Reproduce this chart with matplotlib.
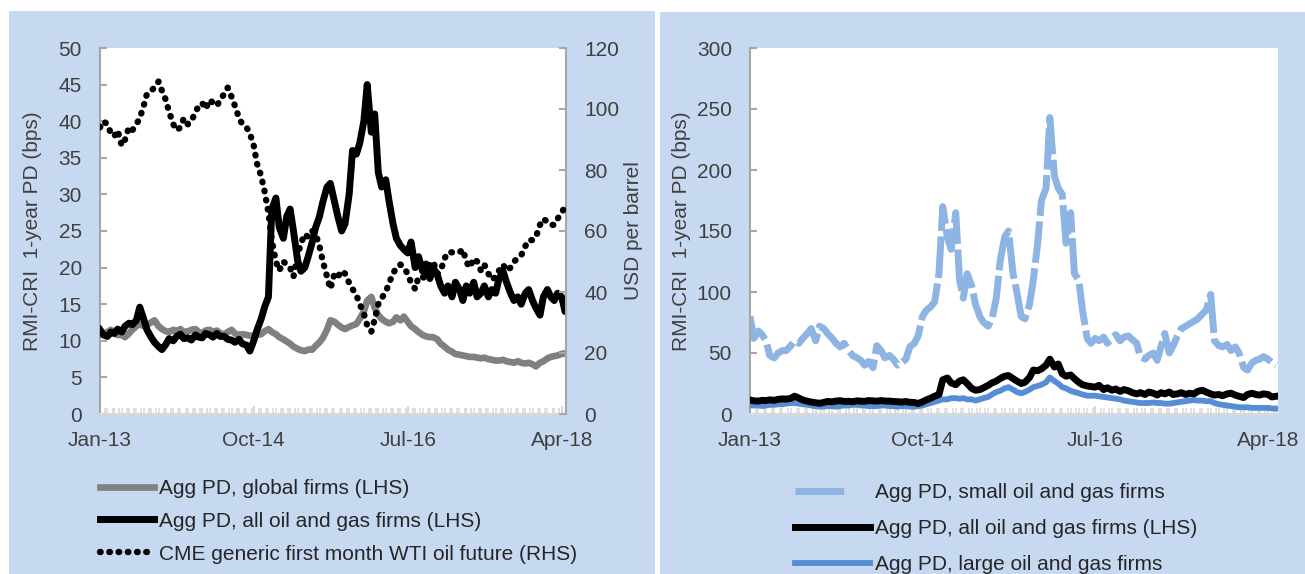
import matplotlib
matplotlib.use("Agg")
import matplotlib.pyplot as plt
import matplotlib.dates as mdates
from matplotlib.patches import Rectangle
from matplotlib.lines import Line2D
import pandas as pd

plt.rcParams['font.family'] = ['Liberation Sans', 'DejaVu Sans']

# ---------------- data (semi-monthly, Jan 2013 - May 2018) ----------------
dates = pd.date_range('2013-01-01', '2018-05-01', freq='SMS')

# CME generic first month WTI oil future (USD per barrel, RHS)
oil = [94, 96, 95, 92, 91, 93, 88, 90, 94, 93, 95, 97,
       101, 105, 106, 107, 109, 106, 103, 99, 95, 93, 94, 97,
       95, 96, 99, 101, 102, 100, 103, 102, 101, 103, 105, 107,
       104, 101, 97, 95, 94, 92, 88, 82, 78, 73, 66, 57,
       50, 47, 50, 49, 48, 45, 52, 56, 59, 58, 60, 59,
       55, 50, 45, 41, 46, 45, 47, 46, 43, 41, 39, 36,
       33, 29, 27, 31, 36, 38, 40, 43, 46, 48, 49, 48,
       46, 43, 41, 45, 45, 44, 49, 50, 46, 47, 51, 53,
       53, 53, 53, 54, 50, 48, 51, 50, 47, 49, 46, 44,
       45, 47, 49, 47, 48, 50, 51, 52, 55, 57, 57, 58,
       62, 64, 63, 62, 62, 64, 66, 68, 68]

# Agg PD, global firms (bps, LHS)
glob = [11.5, 11.0, 11.2, 11.5, 11.0, 10.8, 10.8, 10.5, 11.0, 11.5, 12.0, 12.3,
        12.0, 12.2, 12.5, 12.8, 12.0, 11.6, 11.3, 11.2, 11.5, 11.3, 11.6, 11.2,
        11.3, 11.5, 11.6, 11.2, 11.0, 11.4, 11.5, 11.2, 11.4, 11.0, 10.9, 11.2,
        11.5, 11.0, 10.8, 10.9, 10.8, 10.7, 10.7, 10.8, 10.9, 11.3, 11.6, 11.2,
        10.9, 10.5, 10.2, 9.9, 9.6, 9.2, 8.9, 8.7, 8.6, 8.8, 8.8, 9.3,
        9.8, 10.4, 11.5, 12.8, 12.6, 12.2, 11.8, 11.6, 11.9, 12.1, 12.3, 13.0,
        14.0, 15.5, 16.0, 14.5, 13.5, 13.0, 12.6, 12.4, 12.6, 13.2, 12.8, 13.3,
        12.6, 12.0, 11.6, 11.2, 10.8, 10.6, 10.5, 10.5, 10.2, 9.6, 9.2, 8.8,
        8.5, 8.2, 8.1, 8.0, 7.9, 7.8, 7.8, 7.7, 7.6, 7.7, 7.5, 7.4,
        7.3, 7.3, 7.4, 7.2, 7.1, 7.0, 7.2, 7.0, 6.9, 7.0, 6.8, 6.5,
        7.0, 7.2, 7.6, 7.8, 7.9, 8.0, 8.2, 8.3, 8.3]

# Agg PD, all oil and gas firms (bps)
all_og = [11.5, 10.8, 10.6, 11.2, 11.0, 11.6, 11.2, 12.0, 12.4, 12.2, 12.8, 14.6,
          13.0, 11.5, 10.5, 9.8, 9.2, 8.8, 9.5, 10.3, 10.0, 10.6, 10.9, 10.3,
          10.4, 10.1, 10.8, 10.5, 10.4, 11.0, 10.8, 10.5, 11.0, 10.6, 10.6, 10.2,
          10.1, 9.8, 10.2, 9.6, 9.4, 8.6, 10.0, 11.5, 13.0, 14.6, 16.0, 28.0,
          29.5, 25.5, 24.0, 27.0, 28.0, 25.0, 21.0, 19.5, 20.0, 21.5, 23.5, 25.5,
          27.0, 29.0, 31.0, 31.5, 29.0, 27.0, 25.0, 26.0, 30.0, 36.0, 35.5, 37.0,
          40.0, 45.0, 38.5, 41.0, 33.0, 31.0, 32.0, 29.0, 26.0, 24.0, 23.0, 22.5,
          22.0, 23.5, 20.0, 21.5, 19.5, 20.5, 18.5, 20.0, 19.0, 17.5, 16.5, 17.5,
          16.0, 18.0, 17.0, 15.5, 17.5, 16.5, 18.0, 16.0, 16.5, 17.5, 16.0, 17.0,
          16.5, 18.5, 19.5, 18.0, 16.5, 15.5, 16.0, 15.0, 16.5, 17.0, 15.5, 14.5,
          13.5, 16.0, 17.0, 16.0, 15.5, 16.5, 16.0, 14.0, 14.5]

# Agg PD, small oil and gas firms (bps)
small = [80, 62, 68, 65, 60, 48, 46, 50, 52, 52, 56, 60,
         58, 62, 66, 70, 60, 72, 70, 66, 62, 58, 55, 58,
         52, 48, 46, 44, 40, 43, 38, 56, 52, 46, 48, 45,
         40, 42, 45, 55, 58, 64, 80, 85, 88, 92, 115, 170,
         145, 135, 165, 110, 95, 115, 105, 90, 80, 75, 72, 78,
         95, 125, 145, 150, 115, 100, 80, 78, 90, 110, 140, 175,
         185, 243, 195, 185, 180, 140, 165, 115, 110, 85, 62, 58,
         62, 60, 63, 58, 62, 65, 60, 63, 64, 61, 58, 47,
         45, 48, 50, 44, 55, 66, 50, 56, 64, 70, 72, 74,
         76, 78, 82, 85, 98, 60, 56, 55, 57, 52, 55, 50,
         38, 36, 42, 44, 45, 47, 45, 42, 40]

# Agg PD, large oil and gas firms (bps)
large = [7, 7, 7, 6.5, 7, 7.5, 7.5, 8, 8, 8.5, 9, 9,
         8.5, 8, 7.5, 7, 6.5, 6, 6, 6.5, 6.5, 6, 6.5, 7,
         7, 7.5, 7.5, 7, 7, 6.5, 6.5, 6.5, 7, 7, 6.5, 6.5,
         6, 6.5, 6.5, 6, 6, 6.5, 7, 8, 9, 10, 11, 12,
         12, 13, 13, 12.5, 13, 12, 12, 11, 12, 13, 14, 16,
         18, 19, 21, 22, 20, 18, 17, 18, 20, 22, 23, 24,
         26, 30, 27, 25, 22, 21, 19, 18, 17, 16, 15, 15,
         15, 14.5, 14, 13.5, 13, 12.5, 12, 11, 10.5, 10, 9.5, 9,
         9, 9, 9.5, 9, 9, 8.5, 8.5, 9, 9.5, 10, 10.5, 11,
         11.5, 11, 11, 10.5, 10.5, 9, 8, 7.5, 7, 6.5, 6, 5.5,
         5.5, 5.5, 5, 5, 5, 5, 5, 4.5, 4.5]

xtick_dates = ['2013-01-01', '2014-10-01', '2016-07-01', '2018-04-01']

# ---------------- styling ----------------
BG = '#c6d9f1'
TXT = '#404040'
AXC = '#a6a6a6'
FS = 15

W, H = 1305, 574
fig = plt.figure(figsize=(W / 100, H / 100), dpi=100, facecolor='white')

# panel backgrounds
fig.patches.append(Rectangle((9 / W, 0), (655 - 9) / W, (H - 11) / H,
                             transform=fig.transFigure, facecolor=BG,
                             edgecolor='none', zorder=-10))
fig.patches.append(Rectangle((660 / W, 0), (W - 660) / W, (H - 12) / H,
                             transform=fig.transFigure, facecolor=BG,
                             edgecolor='none', zorder=-10))


def px_axes(x0, x1, y0, y1):
    return fig.add_axes([x0 / W, (H - y1) / H, (x1 - x0) / W, (y1 - y0) / H])


def style_axis(ax, side='left'):
    ax.set_facecolor('white')
    for s in ['top', 'right', 'left', 'bottom']:
        ax.spines[s].set_visible(False)
    ax.spines[side].set_visible(True)
    ax.spines[side].set_color(AXC)
    ax.spines[side].set_linewidth(1.5)
    ax.spines['bottom'].set_visible(True)
    ax.spines['bottom'].set_color('#d9d9d9')
    ax.spines['bottom'].set_linewidth(1.5)
    ax.tick_params(axis='y', direction='in', length=5, width=1.5, color=AXC,
                   labelsize=FS, labelcolor=TXT, pad=13)
    ax.tick_params(axis='x', which='major', direction='in', length=6, width=1.5,
                   color='#d9d9d9', labelsize=FS, labelcolor=TXT, pad=12)
    ax.tick_params(axis='x', which='minor', direction='in', length=4, width=1.2,
                   color='#d9d9d9')


def set_dates(ax, end):
    ax.set_xlim(pd.Timestamp('2013-01-01'), pd.Timestamp(end))
    ax.set_xticks([pd.Timestamp(d) for d in xtick_dates])
    ax.xaxis.set_major_formatter(mdates.DateFormatter('%b-%y'))
    ax.xaxis.set_minor_locator(mdates.DayLocator(bymonthday=[1, 22], interval=1))


# ---------------- left panel ----------------
axL = px_axes(100, 566, 48, 414)
style_axis(axL, 'left')
l_glob, = axL.plot(dates, glob, color='#808080', lw=4.8, solid_joinstyle='round',
                   label='Agg PD, global firms (LHS)', zorder=2)
l_all, = axL.plot(dates, all_og, color='black', lw=5.0, solid_joinstyle='round',
                  label='Agg PD, all oil and gas firms (LHS)', zorder=3)
axL.set_ylim(0, 50)
axL.set_yticks(range(0, 51, 5))
set_dates(axL, '2018-04-19')
axL.set_ylabel('RMI-CRI  1-year PD (bps)', fontsize=FS, color=TXT)
axL.yaxis.set_label_coords(-0.125, 0.5)

axR = axL.twinx()
for s in ['top', 'left', 'bottom']:
    axR.spines[s].set_visible(False)
axR.spines['right'].set_color(AXC)
axR.spines['right'].set_linewidth(1.5)
l_oil, = axR.plot(dates, oil, color='black', lw=4.6, linestyle=(0, (0.1, 1.35)),
                  dash_capstyle='round', label='CME generic first month WTI oil future (RHS)',
                  zorder=4)
axR.set_ylim(0, 120)
axR.set_yticks(range(0, 121, 20))
axR.tick_params(axis='y', direction='in', length=5, width=1.5, color=AXC,
                labelsize=FS, labelcolor=TXT, pad=13)
axR.set_ylabel('USD per barrel', fontsize=FS, color=TXT)
axR.yaxis.set_label_coords(1.125, 0.5)
set_dates(axR, '2018-04-19')

# ---------------- right panel ----------------
ax2 = px_axes(750, 1278, 48, 414)
style_axis(ax2, 'left')
l_small, = ax2.plot(dates, small, color='#8db4e2', lw=5.0, linestyle=(0, (6, 0.8)),
                    solid_joinstyle='round',
                    label='Agg PD, small oil and gas firms', zorder=2)
l_large, = ax2.plot(dates, large, color='#558ed5', lw=4.2, solid_joinstyle='round',
                    label='Agg PD, large oil and gas firms', zorder=3)
l_all2, = ax2.plot(dates, all_og, color='black', lw=5.0, solid_joinstyle='round',
                   label='Agg PD, all oil and gas firms (LHS)', zorder=4)
ax2.set_ylim(0, 300)
ax2.set_yticks(range(0, 301, 50))
set_dates(ax2, '2018-05-08')
ax2.set_ylabel('RMI-CRI  1-year PD (bps)', fontsize=FS, color=TXT)
ax2.yaxis.set_label_coords(-0.112, 0.5)

# ---------------- legends ----------------
legL = fig.legend(handles=[l_glob, l_all, l_oil], loc='upper left',
                  bbox_to_anchor=(100 / W, (H - 479) / H), frameon=False,
                  fontsize=FS, handlelength=2.6, handletextpad=0.25,
                  labelspacing=0.66, borderpad=0, borderaxespad=0)
for t in legL.get_texts():
    t.set_color('#262626')

small_proxy = Line2D([], [], color='#8db4e2', lw=5.0, linestyle=(0, (7, 5)))
legR = fig.legend(handles=[small_proxy, l_all2, l_large],
                  labels=['Agg PD, small oil and gas firms',
                          'Agg PD, all oil and gas firms (LHS)',
                          'Agg PD, large oil and gas firms'],
                  loc='upper left', bbox_to_anchor=(795 / W, (H - 483) / H),
                  frameon=False, fontsize=FS, handlelength=3.6, handletextpad=0.25,
                  labelspacing=0.82, borderpad=0, borderaxespad=0)
for t in legR.get_texts():
    t.set_color('#262626')

fig.savefig('out.png', dpi=100, facecolor='white')
